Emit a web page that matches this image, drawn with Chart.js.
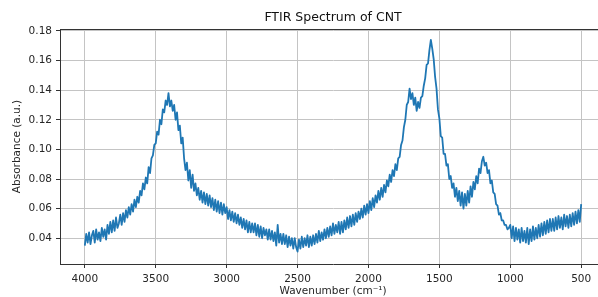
<!DOCTYPE html>
<html>
<head>
<meta charset="utf-8">
<script src="https://cdn.jsdelivr.net/npm/chart.js@4/dist/chart.umd.min.js"></script>
<style>
html, body { margin: 0; padding: 0; background: #fff; overflow: hidden; }
#wrap { width: 598px; height: 297px; overflow: hidden; }
</style>
</head>
<body>
<div id="wrap"><canvas id="grafico" width="620" height="297"></canvas></div>
<script>
const tituloGrafico = "FTIR Spectrum of CNT";
const tituloX = "Wavenumber (cm\u207B\u00B9)";
const tituloY = "Absorbance (a.u.)";
const inicioOnda = 4000;
const passoOnda = 10;

const absorbancia = [
    0.035, 0.043, 0.037, 0.044, 0.036, 0.042, 0.045, 0.037, 0.046, 0.039,   // 4000-3910
    0.044, 0.038, 0.047, 0.041, 0.046, 0.039, 0.049, 0.043, 0.051, 0.044,   // 3900-3810
    0.052, 0.045, 0.054, 0.047, 0.050, 0.056, 0.049, 0.057, 0.051, 0.059,   // 3800-3710
    0.054, 0.061, 0.056, 0.063, 0.058, 0.066, 0.061, 0.068, 0.064, 0.072,   // 3700-3610
    0.069, 0.077, 0.073, 0.081, 0.077, 0.088, 0.084, 0.094, 0.096, 0.103,   // 3600-3510
    0.104, 0.112, 0.110, 0.120, 0.117, 0.127, 0.125, 0.133, 0.130, 0.138,   // 3500-3410
    0.129, 0.133, 0.126, 0.130, 0.120, 0.125, 0.113, 0.116, 0.104, 0.108,   // 3400-3310
    0.094, 0.086, 0.091, 0.079, 0.086, 0.074, 0.083, 0.072, 0.077, 0.069,   // 3300-3210
    0.074, 0.066, 0.072, 0.064, 0.071, 0.063, 0.070, 0.062, 0.069, 0.061,   // 3200-3110
    0.067, 0.059, 0.066, 0.058, 0.065, 0.057, 0.064, 0.056, 0.063, 0.057,   // 3100-3010
    0.061, 0.053, 0.059, 0.052, 0.058, 0.051, 0.057, 0.050, 0.056, 0.049,   // 3000-2910
    0.054, 0.047, 0.053, 0.046, 0.052, 0.044, 0.051, 0.044, 0.050, 0.044,   // 2900-2810
    0.050, 0.042, 0.049, 0.041, 0.048, 0.040, 0.047, 0.042, 0.046, 0.039,   // 2800-2710
    0.046, 0.039, 0.045, 0.038, 0.044, 0.035, 0.049, 0.037, 0.043, 0.036,   // 2700-2610
    0.043, 0.036, 0.042, 0.034, 0.041, 0.035, 0.040, 0.033, 0.040, 0.034,   // 2600-2510
    0.031, 0.039, 0.033, 0.041, 0.034, 0.040, 0.035, 0.042, 0.034, 0.041,   // 2500-2410
    0.035, 0.042, 0.036, 0.043, 0.037, 0.045, 0.038, 0.044, 0.039, 0.046,   // 2400-2310
    0.040, 0.047, 0.041, 0.048, 0.042, 0.050, 0.043, 0.049, 0.044, 0.051,   // 2300-2210
    0.043, 0.051, 0.044, 0.052, 0.046, 0.054, 0.047, 0.055, 0.048, 0.056,   // 2200-2110
    0.049, 0.057, 0.051, 0.058, 0.053, 0.060, 0.054, 0.062, 0.056, 0.063,   // 2100-2010
    0.057, 0.065, 0.059, 0.067, 0.061, 0.069, 0.064, 0.072, 0.066, 0.074,   // 2000-1910
    0.068, 0.076, 0.071, 0.079, 0.075, 0.083, 0.078, 0.086, 0.082, 0.090,   // 1900-1810
    0.086, 0.094, 0.095, 0.103, 0.106, 0.115, 0.120, 0.130, 0.132, 0.141,   // 1800-1710
    0.134, 0.138, 0.130, 0.135, 0.126, 0.132, 0.128, 0.135, 0.136, 0.143,   // 1700-1610
    0.148, 0.157, 0.158, 0.167, 0.174, 0.168, 0.161, 0.149, 0.141, 0.127,   // 1600-1510
    0.121, 0.109, 0.108, 0.097, 0.097, 0.089, 0.090, 0.080, 0.082, 0.074,   // 1500-1410
    0.077, 0.068, 0.074, 0.065, 0.072, 0.062, 0.071, 0.060, 0.070, 0.062,   // 1400-1310
    0.072, 0.064, 0.075, 0.068, 0.078, 0.073, 0.082, 0.077, 0.087, 0.084,   // 1300-1210
    0.092, 0.095, 0.089, 0.091, 0.084, 0.086, 0.077, 0.079, 0.071, 0.070,   // 1200-1110
    0.063, 0.062, 0.056, 0.057, 0.052, 0.052, 0.049, 0.049, 0.046, 0.047,   // 1100-1010
    0.049, 0.040, 0.048, 0.038, 0.047, 0.039, 0.046, 0.037, 0.047, 0.038,   // 1000-910
    0.045, 0.037, 0.047, 0.036, 0.046, 0.038, 0.048, 0.039, 0.047, 0.040,   // 900-810
    0.049, 0.041, 0.050, 0.042, 0.051, 0.043, 0.052, 0.044, 0.053, 0.045,   // 800-710
    0.053, 0.045, 0.054, 0.046, 0.055, 0.047, 0.054, 0.046, 0.056, 0.048,   // 700-610
    0.055, 0.047, 0.056, 0.048, 0.057, 0.049, 0.058, 0.050, 0.059, 0.051,   // 600-510
    0.063                                                                    // 500
];

const ticksX = [4000, 3500, 3000, 2500, 2000, 1500, 1000, 500];
const ticksY = [0.04, 0.06, 0.08, 0.10, 0.12, 0.14, 0.16, 0.18];

// monta pontos {x, y}
const pontos = absorbancia.map((a, i) => ({ x: inicioOnda - i * passoOnda, y: a }));

const fonte = { family: "'DejaVu Sans', sans-serif", size: 10.5 };
const fonteTitulo = { family: "'DejaVu Sans', sans-serif", size: 10.5, lineHeight: 1 };
const corTexto = "#262626";
const corGrade = "#c4c4c4";
const corEixo = "#333333";

// titulo centrado no eixo + borda superior (estilo matplotlib)
const pluginMoldura = {
    id: "moldura",
    afterDraw(chart) {
        const { ctx, chartArea } = chart;
        ctx.save();
        ctx.strokeStyle = corEixo;
        ctx.lineWidth = 1;
        ctx.beginPath();
        ctx.moveTo(chartArea.left, chartArea.top + 0.5);
        ctx.lineTo(chartArea.right, chartArea.top + 0.5);
        ctx.stroke();
        ctx.fillStyle = "#111";
        ctx.font = "12.5px 'DejaVu Sans', sans-serif";
        ctx.textAlign = "center";
        ctx.textBaseline = "middle";
        ctx.fillText(tituloGrafico, (chartArea.left + chartArea.right) / 2, 18);
        ctx.restore();
    }
};

const ctx = document.getElementById("grafico").getContext("2d");

new Chart(ctx, {
    type: "line",
    data: {
        datasets: [{
            data: pontos,
            borderColor: "#1f77b4",
            borderWidth: 1.8,
            pointRadius: 0,
            tension: 0,
            borderJoinStyle: "round",
            fill: false
        }]
    },
    options: {
        responsive: false,
        animation: false,
        devicePixelRatio: 1,
        layout: { padding: { top: 29, right: 14, left: 0, bottom: 0 } },
        plugins: {
            legend: { display: false },
            tooltip: { enabled: false }
        },
        scales: {
            x: {
                type: "linear",
                reverse: true,
                min: 325,
                max: 4175,
                afterBuildTicks: s => { s.ticks = ticksX.map(v => ({ value: v })); },
                afterFit: s => { s.height = 33; },
                ticks: {
                    font: fonte,
                    color: corTexto,
                    padding: 5,
                    maxRotation: 0,
                    autoSkip: false,
                    callback: v => String(v)
                },
                grid: { color: corGrade, lineWidth: 1, tickLength: 4, tickColor: corEixo },
                border: { color: corEixo, width: 1 },
                title: { display: true, text: tituloX, font: fonteTitulo, color: corTexto, padding: { top: 0, bottom: 0 } }
            },
            y: {
                min: 0.0226,
                max: 0.1813,
                afterBuildTicks: s => { s.ticks = ticksY.map(v => ({ value: v })); },
                afterFit: s => { s.width = 60; },
                ticks: {
                    font: fonte,
                    color: corTexto,
                    padding: 4,
                    callback: v => v.toFixed(2)
                },
                grid: { color: corGrade, lineWidth: 1, tickLength: 4, tickColor: corEixo },
                border: { color: corEixo, width: 1 },
                title: { display: true, text: tituloY, font: fonteTitulo, color: corTexto, padding: { top: 12, bottom: 0 } }
            }
        }
    },
    plugins: [pluginMoldura]
});
</script>
</body>
</html>
